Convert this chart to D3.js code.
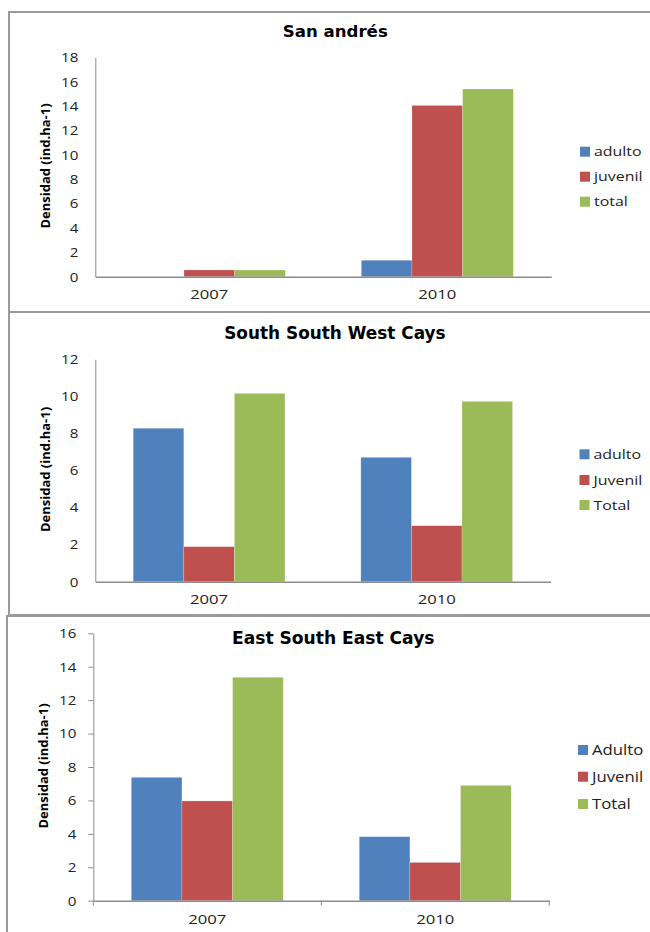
<!DOCTYPE html>
<html>
<head>
<meta charset="utf-8">
<script src="https://cdn.jsdelivr.net/npm/d3@7"></script>
<style>
  html, body { margin: 0; padding: 0; background: #fff; }
  svg { display: block; }
</style>
</head>
<body>
<svg id="chart" width="650" height="932"></svg>
<script>
// Density (ind.ha-1) of each group by survey year
const years = ["2007", "2010"];

const titles = ["San andrés", "South South West Cays", "East South East Cays"];

const sanAndresAdulto = [0, 1.35];
const sanAndresJuvenil = [0.55, 14.05];
const sanAndresTotal = [0.55, 15.4];

const sswAdulto = [8.28, 6.71];
const sswJuvenil = [1.89, 3.02];
const sswTotal = [10.16, 9.73];

const eseAdulto = [7.38, 3.83];
const eseJuvenil = [5.97, 2.29];
const eseTotal = [13.37, 6.9];

const legend1 = ["adulto", "juvenil", "total"];
const legend2 = ["adulto", "Juvenil", "Total"];
const legend3 = ["Adulto", "Juvenil", "Total"];

const yTicks1 = [0, 2, 4, 6, 8, 10, 12, 14, 16, 18];
const yTicks2 = [0, 2, 4, 6, 8, 10, 12];
const yTicks3 = [0, 2, 4, 6, 8, 10, 12, 14, 16];

const yLabel = "Densidad (ind.ha-1)";
const colors = ["#4f81bd", "#c0504d", "#9bbb59"];

const svg = d3.select("#chart");

// Layout of the three stacked panels
const panels = [
  { title: titles[0], series: [sanAndresAdulto, sanAndresJuvenil, sanAndresTotal], legend: legend1, ticks: yTicks1,
    frame: { x: 9, y: 12, h: 300 }, x0: 95.3, x1: 551.3, top: 57.3, base: 276.7,
    titleY: 37, titleSize: 16.6, legendX: 580, legendY: [151.7, 176.7, 201.7], legendSize: 13.5, xLabelY: 299.5,
    yLabelX: 45, axisTicks: false },
  { title: titles[1], series: [sswAdulto, sswJuvenil, sswTotal], legend: legend2, ticks: yTicks2,
    frame: { x: 9, y: 312, h: 303 }, x0: 95.3, x1: 550.5, top: 359.3, base: 581.7,
    titleY: 339, titleSize: 16.9, legendX: 579.5, legendY: [454.3, 480, 505], legendSize: 13.5, xLabelY: 604,
    yLabelX: 45, axisTicks: false },
  { title: titles[2], series: [eseAdulto, eseJuvenil, eseTotal], legend: legend3, ticks: yTicks3,
    frame: { x: 7, y: 616, h: 400 }, x0: 93.3, x1: 549.2, top: 633.3, base: 900.7,
    titleY: 644, titleSize: 17.1, legendX: 578, legendY: [750, 776.7, 804], legendSize: 14.2, xLabelY: 924.5,
    yLabelX: 43, axisTicks: true }
];

const axisColor = "#8c8c8c";
const bodyFont = "'Open Sans', 'Liberation Sans', sans-serif";

// widen text horizontally about its own anchor x
function widen(sel, sx) {
  sel.each(function () {
    const t = d3.select(this);
    const x0 = +t.attr("x") || 0;
    t.attr("x", x0 / sx).attr("transform", `scale(${sx},1)`);
  });
}

panels.forEach(p => {
  const g = svg.append("g");

  // panel frame (runs past the right edge)
  g.append("rect")
    .attr("x", p.frame.x).attr("y", p.frame.y)
    .attr("width", 700).attr("height", p.frame.h)
    .attr("fill", "none").attr("stroke", "#9a9a9a").attr("stroke-width", 2);

  const yMax = p.ticks[p.ticks.length - 1];
  const x = d3.scaleBand().domain(years).range([p.x0, p.x1]).paddingInner(0).paddingOuter(0);
  const xs = d3.scaleBand().domain([0, 1, 2]).range([0, x.bandwidth()]).paddingInner(0).paddingOuter(0.75);
  const y = d3.scaleLinear().domain([0, yMax]).range([p.base, p.top]);

  // bars
  p.series.forEach((vals, si) => {
    g.append("g").selectAll("rect")
      .data(years.map((yr, i) => ({ yr, v: vals[i] })))
      .join("rect")
      .attr("x", d => x(d.yr) + xs(si))
      .attr("width", xs.bandwidth())
      .attr("y", d => y(d.v))
      .attr("height", d => y(0) - y(d.v))
      .attr("fill", colors[si])
      .attr("stroke", "rgba(255,255,255,0.35)")
      .attr("stroke-width", 0.6);
  });

  // y axis
  const yAxis = d3.axisLeft(y).tickValues(p.ticks)
    .tickSize(p.axisTicks ? 5 : 0).tickSizeOuter(0)
    .tickPadding(p.axisTicks ? 12 : 17);
  const ya = g.append("g").attr("transform", `translate(${p.x0},0)`).call(yAxis);
  ya.select(".domain").attr("stroke", axisColor);
  ya.selectAll(".tick line").attr("stroke", axisColor);
  ya.selectAll(".tick text")
    .attr("font-family", bodyFont).attr("font-size", 13.5).attr("fill", "#222");
  widen(ya.selectAll(".tick text"), 1.12);

  // x axis
  const xAxis = d3.axisBottom(x).tickSize(0).tickSizeOuter(0).tickPadding(14);
  const xa = g.append("g").attr("transform", `translate(0,${p.base})`).call(xAxis);
  xa.select(".domain").attr("stroke", axisColor).attr("stroke-width", 1.5);
  xa.selectAll(".tick text")
    .attr("font-family", bodyFont).attr("font-size", 13).attr("fill", "#222")
    .attr("dy", null).attr("y", p.xLabelY - p.base);
  widen(xa.selectAll(".tick text"), 1.28);

  if (p.axisTicks) {
    const bounds = years.map(yr => x(yr)).concat([x(years[years.length - 1]) + x.bandwidth()]);
    g.append("g").selectAll("line").data(bounds).join("line")
      .attr("x1", d => d).attr("x2", d => d)
      .attr("y1", p.base).attr("y2", p.base + 5)
      .attr("stroke", axisColor);
  }

  // title
  g.append("text")
    .attr("x", (p.x0 + p.x1) / 2 + 12).attr("y", p.titleY)
    .attr("text-anchor", "middle")
    .attr("font-family", "'DejaVu Sans', sans-serif").attr("font-weight", "bold")
    .attr("font-size", p.titleSize).attr("fill", "#000")
    .text(p.title);

  // y axis title
  g.append("text")
    .attr("transform", `translate(${p.yLabelX},${(p.top + p.base) / 2 - 1}) rotate(-90)`)
    .attr("text-anchor", "middle").attr("dy", "0.35em")
    .attr("font-family", bodyFont).attr("font-weight", "bold")
    .attr("font-size", 13).attr("fill", "#000")
    .text(yLabel);

  // legend
  const lg = g.append("g");
  p.legend.forEach((lab, i) => {
    lg.append("rect")
      .attr("x", p.legendX).attr("y", p.legendY[i] - 5)
      .attr("width", 10).attr("height", 10)
      .attr("fill", colors[i]);
    const t = lg.append("text")
      .attr("x", p.legendX + 14).attr("y", p.legendY[i])
      .attr("dy", "0.35em")
      .attr("font-family", bodyFont).attr("font-size", p.legendSize).attr("fill", "#222")
      .text(lab);
    widen(t, 1.18);
  });
});
</script>
</body>
</html>
